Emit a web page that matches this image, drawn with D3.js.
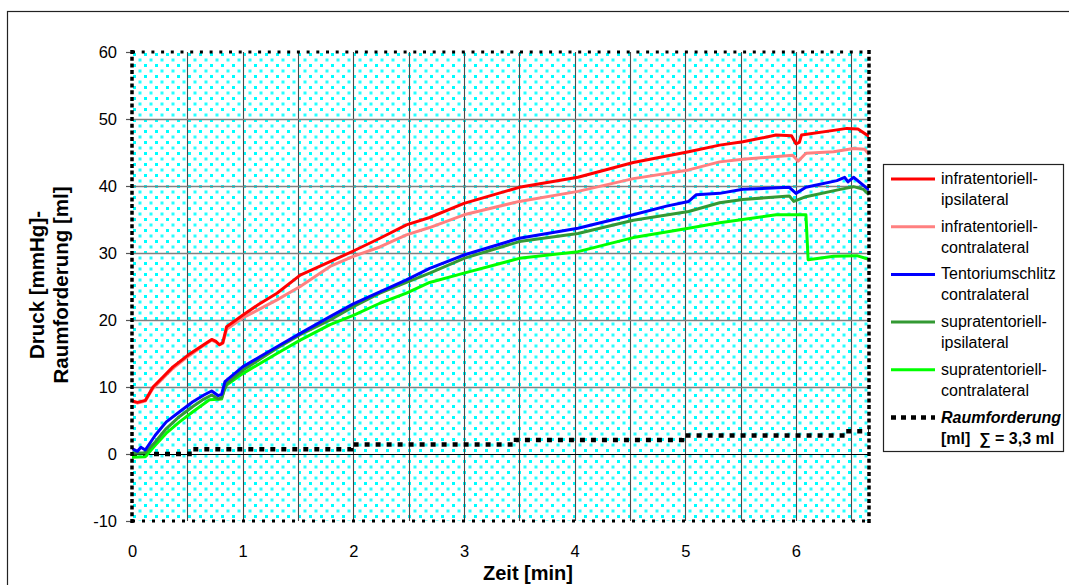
<!DOCTYPE html>
<html><head><meta charset="utf-8">
<script src="https://cdn.jsdelivr.net/npm/d3@7"></script>
<style>
body{margin:0;background:#fff;}
svg{display:block;font-family:"Liberation Sans",Arial,sans-serif;}
</style></head>
<body><svg id="c" width="1069" height="585"></svg>
<script>
// ---- data ----
const xTicks = [0,1,2,3,4,5,6];
const yTicks = [-10,0,10,20,30,40,50,60];
const seriesNames = ["infratentoriell-|ipsilateral","infratentoriell-|contralateral","Tentoriumschlitz|contralateral","supratentoriell-|ipsilateral","supratentoriell-|contralateral"];
const seriesColors = ["#ff0000","#ff8080","#0000ff","#339933","#00ff00"];

const tRed = [0,0.05,0.12,0.19,0.28,0.37,0.51,0.62,0.72,0.76,0.79,0.82,0.855,1.0,1.15,1.31,1.52,1.79,2.0,2.24,2.48,2.69,3.0,3.5,4.03,4.53,5.03,5.31,5.52,5.82,5.96,6.0,6.03,6.05,6.34,6.46,6.56,6.66];
const vRed = [7.9,7.7,8.0,10.0,11.5,13.0,14.8,16.0,17.1,16.8,16.3,16.6,19.0,20.7,22.4,24.0,26.7,28.7,30.3,32.2,34.2,35.3,37.4,39.8,41.3,43.5,45.1,46.1,46.6,47.6,47.5,46.3,46.5,47.6,48.3,48.6,48.5,47.4];

const tPink = [0,0.05,0.12,0.19,0.28,0.37,0.51,0.62,0.72,0.76,0.79,0.82,0.855,1.0,1.31,1.52,1.79,2.0,2.24,2.48,2.69,3.0,3.5,4.03,4.53,5.03,5.31,5.52,5.97,6.02,6.09,6.34,6.52,6.62,6.66];
const vPink = [7.9,7.6,7.9,9.8,11.3,12.8,14.6,15.9,17.0,16.7,16.3,16.5,18.6,20.3,23.0,25.0,28.0,29.5,30.9,32.7,33.8,35.7,37.7,39.2,41.1,42.4,43.6,44.0,44.6,43.7,44.9,45.1,45.6,45.5,44.7];

const tBlue = [0,0.05,0.08,0.12,0.21,0.31,0.43,0.55,0.65,0.72,0.78,0.81,0.84,1.0,1.31,1.52,1.79,2.0,2.24,2.48,2.69,3.0,3.5,4.03,4.53,4.83,5.03,5.10,5.31,5.52,5.94,6.0,6.09,6.37,6.44,6.47,6.52,6.61,6.66];
const vBlue = [0.8,0.4,1.0,0.6,2.8,4.8,6.3,7.8,8.8,9.4,8.7,8.9,10.8,13.0,16.0,18.0,20.5,22.4,24.2,26.0,27.7,29.7,32.2,33.7,35.7,37.0,37.7,38.7,38.9,39.5,39.8,38.9,39.8,40.8,41.3,40.6,41.3,40.1,39.4];

const tDkGreen = [0,0.12,0.21,0.31,0.43,0.55,0.65,0.72,0.78,0.81,0.855,1.0,1.31,1.52,1.79,2.0,2.24,2.48,2.69,3.0,3.5,4.03,4.53,5.03,5.31,5.52,5.94,5.98,6.09,6.40,6.52,6.61,6.66];
const vDkGreen = [0.1,0.2,1.8,3.8,5.6,7.1,8.2,8.8,8.2,8.4,10.5,12.5,15.8,17.8,20.0,22.0,24.0,25.6,27.0,29.2,31.7,32.9,34.9,36.2,37.5,38.0,38.5,37.7,38.4,39.5,39.9,39.5,38.7];

const tLtGreen = [0,0.12,0.21,0.31,0.43,0.55,0.70,0.81,0.83,0.855,1.0,1.31,1.52,1.79,2.0,2.24,2.48,2.69,3.0,3.5,4.03,4.53,5.03,5.31,5.52,5.82,6.09,6.11,6.34,6.55,6.65];
const vLtGreen = [-0.5,-0.4,1.3,3.1,4.8,6.3,8.1,8.2,9.5,10.3,12.0,15.0,17.0,19.3,20.7,22.5,24.0,25.6,27.0,29.2,30.2,32.3,33.7,34.5,35.0,35.7,35.7,29.0,29.5,29.6,29.1];

const tRaum = [0,0.52,1.98,3.47,4.97,6.45,6.66];
const vRaum = [0,0.7,1.4,2.1,2.75,3.4,3.4];

// ---- drawing ----
const svg = d3.select("#c");
const X0 = 132, X1 = 869, Y0 = 521, Y1 = 52;
const x = d3.scaleLinear().domain([0,6.66]).range([X0,X1]);
const y = d3.scaleLinear().domain([-10,60]).range([Y0,Y1]);
const fmt = d => String(d);

// outer frame
svg.append("rect").attr("x",7.5).attr("y",11.5).attr("width",1100).attr("height",600)
  .attr("fill","#fff").attr("stroke","#222").attr("stroke-width",1.2);

// pattern: crisp cyan squares on an 11px grid, softer ones at the centres
const defs = svg.append("defs");
const pat = defs.append("pattern").attr("id","dots").attr("patternUnits","userSpaceOnUse")
  .attr("x",X0+1).attr("y",Y1+1).attr("width",11).attr("height",11);
pat.append("rect").attr("width",11).attr("height",11).attr("fill","#fff");
pat.append("rect").attr("x",0).attr("y",0).attr("width",3).attr("height",3).attr("fill","#00ffff");
pat.append("rect").attr("x",5.5).attr("y",5.5).attr("width",3).attr("height",3).attr("fill","#00ffff").attr("opacity",0.85);
defs.append("clipPath").attr("id","clip").append("rect")
  .attr("x",X0).attr("y",Y1-2).attr("width",X1-X0).attr("height",Y0-Y1+4);

svg.append("rect").attr("x",X0).attr("y",Y1).attr("width",X1-X0).attr("height",Y0-Y1)
  .attr("fill","url(#dots)");

// grid
const g = svg.append("g");
g.selectAll("line.vg").data(d3.range(0.5,6.6,0.5)).join("line")
  .attr("x1",d=>Math.round(x(d))+0.5).attr("x2",d=>Math.round(x(d))+0.5)
  .attr("y1",Y1).attr("y2",Y0).attr("stroke","#4a4a4a").attr("stroke-width",1.1);
g.selectAll("line.hg").data(yTicks.filter(d=>d>-10&&d<60)).join("line")
  .attr("x1",X0).attr("x2",X1)
  .attr("y1",d=>Math.round(y(d))+0.5).attr("y2",d=>Math.round(y(d))+0.5)
  .attr("stroke",d=>d===0?"#000":"#808080").attr("stroke-width",d=>d===0?1.2:1.3);

// y axis ticks & labels
const ya = svg.append("g").attr("transform",`translate(${X0},0)`)
  .call(d3.axisLeft(y).tickValues(yTicks).tickSize(6).tickPadding(9).tickFormat(fmt));
ya.select(".domain").remove();
ya.selectAll(".tick line").attr("stroke","#555").attr("stroke-width",1.2);
ya.selectAll("text").attr("font-size",16.5).attr("font-family","Liberation Sans, Arial").attr("fill","#000");

// x axis labels
const xa = svg.append("g").attr("transform",`translate(0,${Y0})`)
  .call(d3.axisBottom(x).tickValues(xTicks).tickSize(0).tickPadding(24).tickFormat(fmt));
xa.select(".domain").remove();
xa.selectAll("text").attr("font-size",16.5).attr("font-family","Liberation Sans, Arial").attr("fill","#000");

// series
const series = [[tRed,vRed],[tPink,vPink],[tBlue,vBlue],[tDkGreen,vDkGreen],[tLtGreen,vLtGreen]];
const line = d3.line().x(d=>x(d[0])).y(d=>y(d[1]));
const plot = svg.append("g").attr("clip-path","url(#clip)");
const raumPts = tRaum.map((t,i)=>[t,vRaum[i]]);
plot.append("path").attr("d",d3.line().x(d=>x(d[0])).y(d=>y(d[1])).curve(d3.curveStepAfter)(raumPts))
  .attr("fill","none").attr("stroke","#000").attr("stroke-width",4.5).attr("stroke-dasharray","5,6");
for(let i=series.length-1;i>=0;i--){
  const [ts,vs]=series[i];
  plot.append("path").attr("d",line(ts.map((t,j)=>[t,vs[j]])))
    .attr("fill","none").attr("stroke",seriesColors[i]).attr("stroke-width",3)
    .attr("stroke-linejoin","round");
}

// plot borders (dotted)
svg.append("line").attr("x1",X0).attr("x2",X1).attr("y1",Y1).attr("y2",Y1)
  .attr("stroke","#000").attr("stroke-width",3).attr("stroke-dasharray","3,6.7");
svg.append("line").attr("x1",X0).attr("x2",X1).attr("y1",Y0).attr("y2",Y0)
  .attr("stroke","#000").attr("stroke-width",3).attr("stroke-dasharray","3,7");
svg.append("line").attr("x1",X0).attr("x2",X0).attr("y1",Y1-2).attr("y2",Y0+2)
  .attr("stroke","#000").attr("stroke-width",3.5).attr("stroke-dasharray","4,2.7");
svg.append("line").attr("x1",X1).attr("x2",X1).attr("y1",Y1-2).attr("y2",Y0+2)
  .attr("stroke","#000").attr("stroke-width",3.5).attr("stroke-dasharray","4,2.7");

// axis titles
svg.append("text").attr("x",528).attr("y",580).attr("text-anchor","middle")
  .attr("font-size",20).attr("font-weight","bold").text("Zeit [min]");
const yt = svg.append("text").attr("transform","translate(0,285) rotate(-90)")
  .attr("text-anchor","middle").attr("font-size",20.5).attr("font-weight","bold");
yt.append("tspan").attr("x",0).attr("y",44).text("Druck [mmHg]-");
yt.append("tspan").attr("x",0).attr("y",68).text("Raumforderung [ml]");

// legend
const lg = svg.append("g");
lg.append("rect").attr("x",883.5).attr("y",164.5).attr("width",180).attr("height",287)
  .attr("fill","#fff").attr("stroke","#222").attr("stroke-width",1.2);
const rowY = i => 179 + i*47.7;
seriesNames.forEach((nm,i)=>{
  const yy = rowY(i);
  lg.append("line").attr("x1",891).attr("x2",935).attr("y1",yy).attr("y2",yy)
    .attr("stroke",seriesColors[i]).attr("stroke-width",3);
  nm.split("|").forEach((p,k)=>{
    lg.append("text").attr("x",941).attr("y",yy+5+k*21).attr("font-size",16).text(p);
  });
});
{
  const yy = rowY(5);
  lg.append("line").attr("x1",891).attr("x2",935).attr("y1",yy).attr("y2",yy)
    .attr("stroke","#000").attr("stroke-width",4.5).attr("stroke-dasharray","5,5");
  lg.append("text").attr("x",941).attr("y",yy+5).attr("font-size",16)
    .attr("font-weight","bold").attr("font-style","italic").text("Raumforderung");
  lg.append("text").attr("x",941).attr("y",yy+26).attr("font-size",16)
    .attr("font-weight","bold").attr("xml:space","preserve").text("[ml]  \u2211 = 3,3 ml");
}
</script></body></html>
